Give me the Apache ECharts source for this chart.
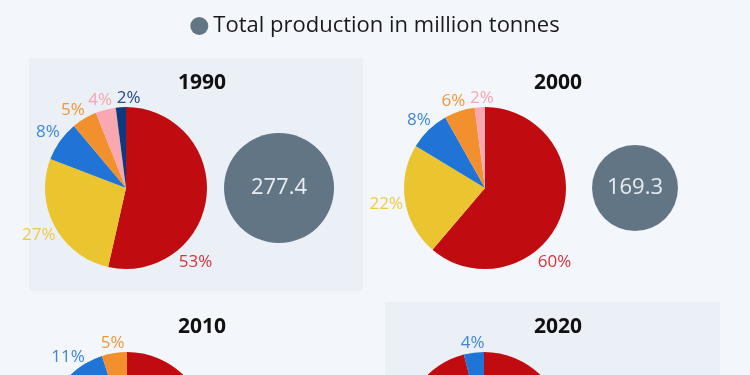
<!DOCTYPE html>
<html>
<head>
<meta charset="utf-8">
<script src="https://cdn.jsdelivr.net/npm/echarts@6/dist/echarts.min.js"></script>
<style>
  html, body { margin: 0; padding: 0; background: #f3f7fb; }
  #chart { width: 750px; height: 375px; }
</style>
</head>
<body>
<div id="chart"></div>
<script>
// shares in percent, one array per year (order: red, yellow, blue, orange, pink, navy)
const categories = ['Category 1', 'Category 2', 'Category 3', 'Category 4', 'Category 5', 'Category 6'];
const years = ['1990', '2000', '2010', '2020'];
const share1990 = [53, 27, 8, 5, 4, 2];
const share2000 = [60, 22, 8, 6, 2, 0];
const share2010 = [72, 12, 11, 5, 0, 0];
const share2020 = [96, 0, 4, 0, 0, 0];
const totals = [277.4, 169.3];

const sliceColors = ['#c00c11', '#ebc530', '#1f74d6', '#f2902e', '#f9a7b0', '#0d3a7e'];
const labelColors = ['#d6323b', '#efc845', '#3d86e0', '#f2963a', '#f6a6b1', '#23498a'];

const font = '"Open Sans", "Noto Sans", sans-serif';
const shares = [share1990, share2000, share2010, share2020];
const pieCenters = [[126, 188], [485, 188], [127, 433], [484, 433]];
const pieRadius = 81;
const labelGap = 9;
const minLabelSep = 18; // degrees between neighbouring small labels
const bubbleCenters = [[279, 188], [635, 188]];
const titlePos = [[197, 68], [553, 68], [197, 312], [553, 312]];
const maxBubble = 55;
// the big first slice keeps its label low on the right, clear of the bubble
const bigLabelAngle = 137;
const bigLabelDist = pieRadius + 21;

// label angle (degrees, clockwise from 12 o'clock) for each non-zero slice:
// the slice's mid angle, nudged apart where neighbours crowd each other
function labelAngles(arr) {
  const vals = arr.filter(v => v > 0);
  const sum = vals.reduce((a, b) => a + b, 0);
  let acc = 0;
  const ang = vals.map(v => {
    const m = (acc + v / 2) / sum * 360;
    acc += v;
    return m;
  });
  for (let it = 0; it < 10; it++) {
    for (let k = 2; k < ang.length; k++) {
      const gap = ang[k] - ang[k - 1];
      if (gap < minLabelSep) {
        const push = (minLabelSep - gap) / 2;
        ang[k - 1] -= push;
        ang[k] += push;
      }
    }
  }
  return ang;
}

const pieSeries = shares.map((arr, i) => {
  const angles = labelAngles(arr);
  return {
    type: 'pie',
    name: years[i],
    center: pieCenters[i],
    radius: pieRadius,
    startAngle: 90,
    clockwise: true,
    avoidLabelOverlap: false,
    silent: true,
    animation: false,
    label: {
      show: true,
      position: 'outside',
      fontFamily: font,
      fontSize: 17,
      formatter: '{c}%'
    },
    labelLine: { show: false, length: 6, length2: 0 },
    labelLayout: (p) => {
      const big = p.dataIndex === 0;
      const a = (big ? bigLabelAngle : angles[p.dataIndex]) * Math.PI / 180;
      const d = big ? bigLabelDist
        : pieRadius + labelGap + 0.6 * (p.labelRect.width / 2) * Math.abs(Math.sin(a));
      return {
        x: pieCenters[i][0] + d * Math.sin(a),
        y: pieCenters[i][1] - d * Math.cos(a),
        align: 'center',
        verticalAlign: 'middle'
      };
    },
    data: arr.map((v, j) => ({
      name: categories[j],
      value: v,
      itemStyle: { color: sliceColors[j] },
      label: { color: labelColors[j] }
    })).filter(d => d.value > 0)
  };
});

const bubbleSeries = totals.map((t, i) => ({
  type: 'pie',
  name: 'Total production in million tonnes',
  center: bubbleCenters[i],
  radius: maxBubble * Math.sqrt(t / Math.max(...totals)),
  silent: true,
  animation: false,
  itemStyle: { color: '#627585' },
  label: {
    show: true,
    position: 'center',
    formatter: '{c}',
    color: '#e9eef3',
    fontFamily: font,
    fontSize: 22
  },
  labelLine: { show: false },
  data: [{ name: 'Total production in million tonnes', value: t }]
}));

const chart = echarts.init(document.getElementById('chart'), null, { renderer: 'canvas' });
chart.setOption({
  backgroundColor: '#f3f7fb',
  animation: false,
  graphic: [
    { type: 'rect', z: -10, shape: { x: 29, y: 58, width: 334, height: 233 }, style: { fill: '#ebf0f7' } },
    { type: 'rect', z: -10, shape: { x: 385, y: 302, width: 335, height: 120 }, style: { fill: '#ebf0f7' } }
  ],
  title: years.map((y, i) => ({
    text: y,
    left: titlePos[i][0],
    top: titlePos[i][1],
    textAlign: 'center',
    textStyle: { fontFamily: font, fontSize: 21, fontWeight: 'bold', color: '#111' }
  })),
  legend: {
    data: ['Total production in million tonnes'],
    top: 10,
    left: 'center',
    icon: 'circle',
    itemWidth: 18,
    itemHeight: 18,
    itemGap: 6,
    textStyle: { fontFamily: font, fontSize: 22, color: '#1a1a1a' },
    selectedMode: false
  },
  series: [...pieSeries, ...bubbleSeries]
});
</script>
</body>
</html>
